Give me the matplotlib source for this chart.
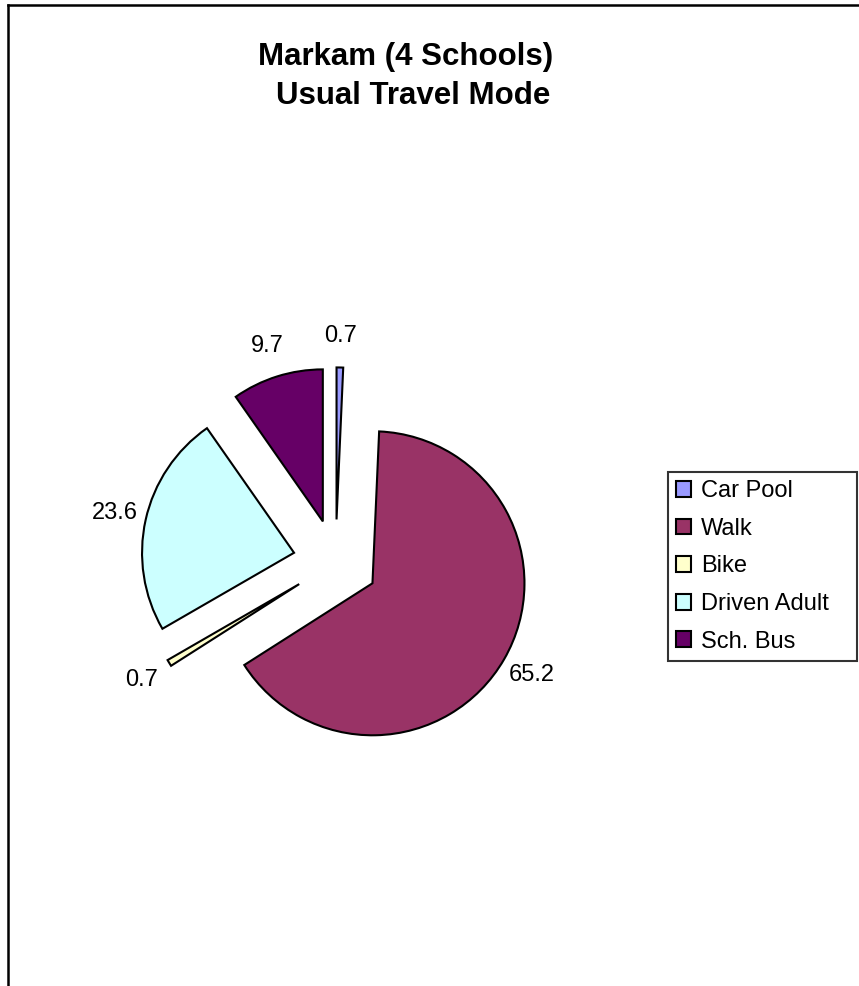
import matplotlib.pyplot as plt
import numpy as np
from matplotlib.lines import Line2D

plt.rcParams['font.family'] = ['Liberation Sans', 'DejaVu Sans']

# Usual travel mode shares (%)
modes = ['Car Pool', 'Walk', 'Bike', 'Driven Adult', 'Sch. Bus']
shares = [0.7, 65.2, 0.7, 23.6, 9.7]
colors = ['#9999FF', '#993366', '#FFFFCC', '#CCFFFF', '#660066']

W, H = 859, 986
fig = plt.figure(figsize=(W / 100, H / 100), dpi=100)

# pie axes: square box around the pie centre, pie radius = 1
cx, cy, r_px, half = 335.6, 562, 152, 300
ax = fig.add_axes([(cx - half) / W, (H - cy - half) / H, 2 * half / W, 2 * half / H])

wedges, _ = ax.pie(shares, colors=colors, startangle=90, counterclock=False,
                   explode=[0.28] * len(shares), radius=1,
                   wedgeprops=dict(edgecolor='black', linewidth=1.5))
lim = half / r_px
ax.set_xlim(-lim, lim)
ax.set_ylim(-lim, lim)
ax.axis('off')

# value labels outside each exploded slice
for w, v in zip(wedges, shares):
    th = np.deg2rad((w.theta1 + w.theta2) / 2)
    ax.text(1.49 * np.cos(th), 1.49 * np.sin(th), f'{v}', ha='center', va='center',
            fontsize=17)

fig.text(405.5 / W, 1 - 57 / H, 'Markam (4 Schools)', ha='center', va='center',
         fontsize=22.5, fontweight='bold')
fig.text(413 / W, 1 - 96 / H, 'Usual Travel Mode', ha='center', va='center',
         fontsize=22.5, fontweight='bold')

leg = fig.legend(wedges, modes, loc='upper left',
                 bbox_to_anchor=(668 / W, 1 - 657 / H, 189 / W, 185 / H), mode='expand',
                 fontsize=17, frameon=True, fancybox=False, handlelength=0.64,
                 handleheight=0.64, handletextpad=0.42, labelspacing=0.66,
                 borderpad=0.35, borderaxespad=0)
leg.get_frame().set_edgecolor('black')
leg.get_frame().set_linewidth(1.5)

# outer chart border (left and top edges visible)
fig.add_artist(Line2D([8 / W, 8 / W], [0, 1 - 5 / H], color='black', lw=1.8,
                      transform=fig.transFigure))
fig.add_artist(Line2D([8 / W, 1], [1 - 5 / H, 1 - 5 / H], color='black', lw=1.8,
                      transform=fig.transFigure))

fig.savefig('out.png', dpi=100)
